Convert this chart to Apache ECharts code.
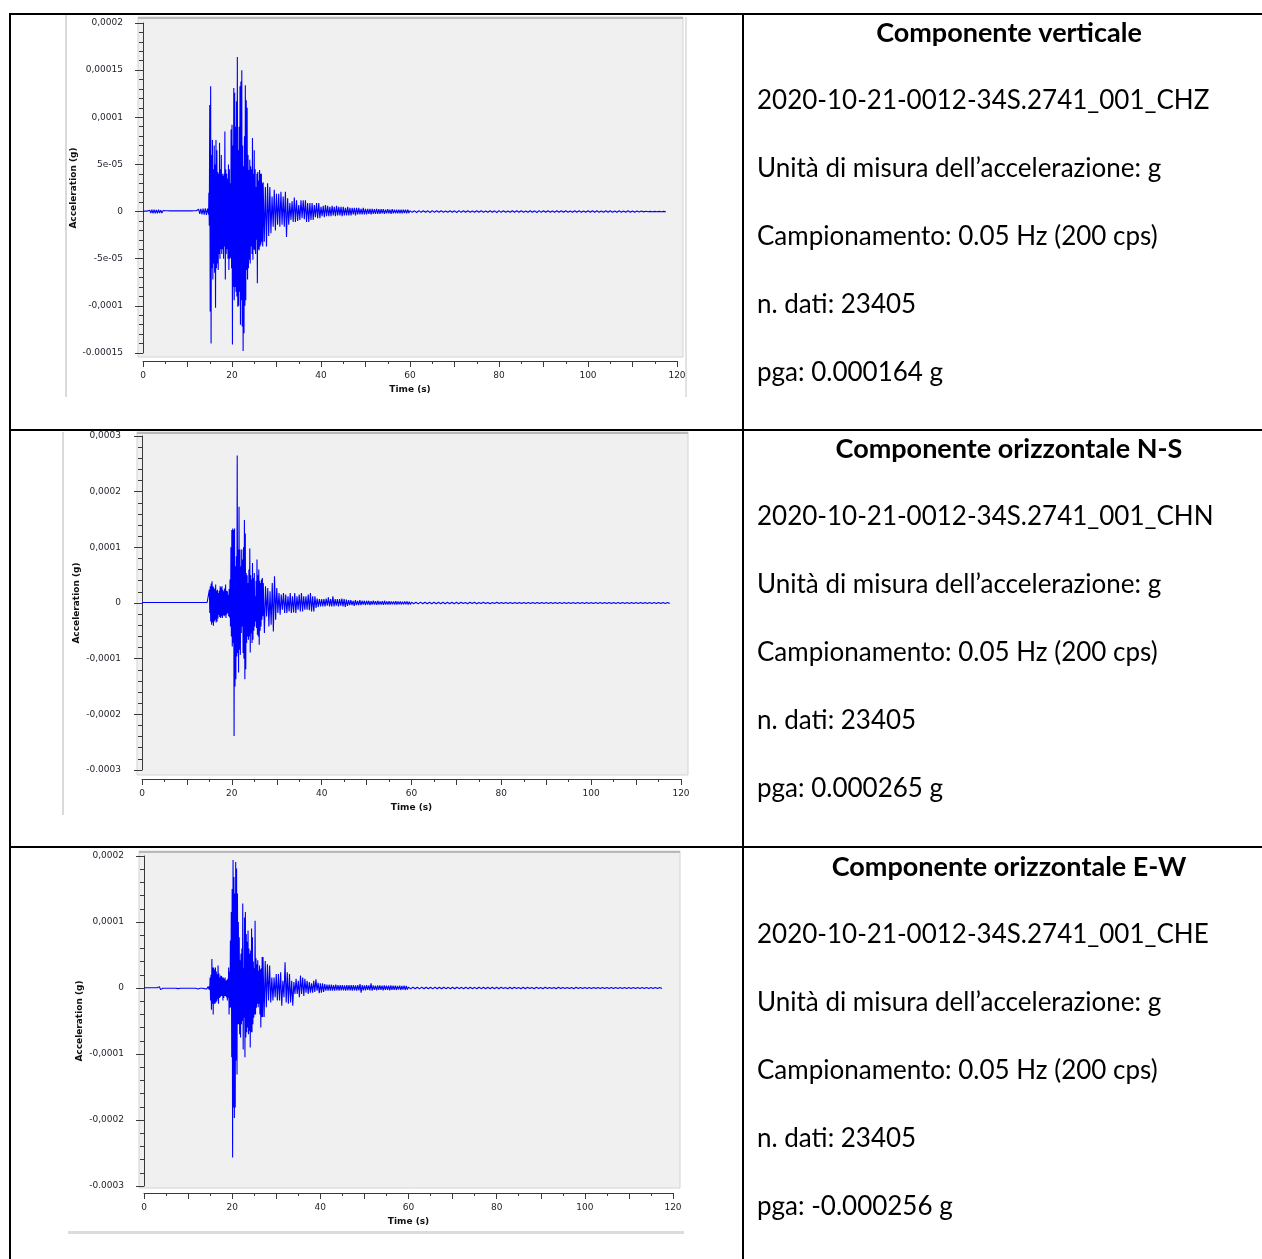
<!DOCTYPE html>
<html>
<head>
<meta charset="utf-8">
<script src="https://cdn.jsdelivr.net/npm/echarts@6/dist/echarts.min.js"></script>
<style>
html,body{margin:0;padding:0;background:#fff;}
#c{width:1262px;height:1259px;}
</style>
</head>
<body>
<div id="c"></div>
<script>
// ---------------- DATA (accelerations in micro-g, 1e-6 g) ----------------
// Each segment: upper peak at t, lower peak at t + dt/2 (t = t0 + i*dt)
const PRE_T0 = 0,    PRE_DT = 0.5;
const MAIN_T0 = 14.8, MAIN_DT = 0.2;
const CODA_T0 = 27,  CODA_DT = 0.5;
const TAIL_T0 = 60,  TAIL_DT = 1;

// Vertical component (CHZ)
const Z_PRE_UP = [0.5,0.5,0.5,1.5,2,2,1.8,2,1.5,1,0.8,0.8,0.7,0.8,0.7,0.8,0.7,0.8,0.7,0.8,0.7,0.8,0.7,0.8,0.8,2.5,3,3.2,3.5,3.2];
const Z_PRE_LO = [-0.5,-0.5,-0.5,-1.5,-2,-2,-1.8,-1.5,-1.5,-1,-0.8,-0.8,-0.7,-0.8,-0.7,-0.8,-0.7,-0.8,-0.7,-0.8,-0.7,-0.8,-0.7,-0.8,-0.8,-2.5,-3,-3.2,-3.5,-3.2];
const Z_MAIN_UP = [20,113,133,60,76,45,70,50,76,65,42,40,73,45,60,40,38,40,85,45,40,35,50,45,30,87,92,70,131,126,90,117,164,65,90,133,138,150,70,48,80,134,118,110,60,44,55,48,45,78,40,65,45,26,40,42,33,44,40,40,30];
const Z_MAIN_LO = [-15,-106,-140,-60,-72,-55,-65,-102,-60,-55,-62,-45,-50,-40,-45,-40,-50,-37,-72,-45,-40,-50,-62,-50,-49,-60,-141,-80,-94,-80,-85,-90,-101,-100,-85,-120,-94,-122,-148,-129,-100,-94,-62,-72,-60,-51,-55,-37,-45,-51,-40,-41,-45,-30,-76,-40,-41,-37,-35,-32,-37];
const Z_CODA_UP = [31,26,30,26,16,23,19,19,21,16,21,14,9,11,15,12,7,12,12,12,9,9,9,7,9,9,5,6,7,6,5,6,5,6,5,5,5,4,5,4,4,4,4,4,3,4,3,3,3,3,2.5,3,2.5,2.5,2.5,2,2.5,2,2.5,2,2,2,2,2,2,2];
const Z_CODA_LO = [-32,-37,-26,-23,-16,-20,-14,-16,-14,-16,-27,-14,-9,-11,-11,-10,-9,-7,-8,-11,-11,-9,-9,-6,-7,-7,-5,-6,-5,-5,-5,-4,-5,-4,-4,-5,-4,-4,-4,-4,-3,-4,-3,-3,-3,-3,-3,-2.5,-3,-2.5,-2.5,-2.5,-2.5,-2,-2.5,-2,-2,-2.5,-2,-2,-2,-2,-2,-1.5,-2,-1.5];
const Z_TAIL_UP = [1,0.8,1,0.8,0.8,1,0.8,0.8,0.7,0.8,0.8,1,0.8,0.8,0.7,0.8,0.8,0.7,0.8,0.8,1,0.8,0.7,0.8,0.8,0.8,0.7,0.8,0.8,1,0.8,0.8,0.7,0.8,0.8,0.8,0.7,0.8,0.8,0.7,0.8,0.8,0.8,0.7,0.8,0.8,0.7,0.8,0.7,0.8,0.7,0.7,0.5,0.3,0.2,0.2,0.2,0.2];
const Z_TAIL_LO = [-0.8,-1,-0.8,-0.8,-1,-0.8,-0.8,-0.7,-0.8,-0.8,-1,-0.8,-0.8,-0.7,-0.8,-0.8,-0.7,-0.8,-0.8,-1,-0.8,-0.7,-0.8,-0.8,-0.8,-0.7,-0.8,-0.8,-1,-0.8,-0.8,-0.7,-0.8,-0.8,-0.8,-0.7,-0.8,-0.8,-0.7,-0.8,-0.8,-0.8,-0.7,-0.8,-0.8,-0.7,-0.8,-0.7,-0.8,-0.7,-0.7,-0.5,-0.3,-0.2,-0.2,-0.2,-0.2,-0.2];

// Horizontal N-S component (CHN)
const N_PRE_UP = [0.9,0.9,0.9,0.9,0.9,0.9,0.9,0.9,0.9,0.9,0.9,0.9,0.9,0.9,0.9,0.9,0.9,0.9,0.9,0.9,0.9,0.9,0.9,0.9,0.9,0.9,0.9,0.9,0.9,0.9];
const N_PRE_LO = [-0.9,-0.9,-0.9,-0.9,-0.9,-0.9,-0.9,-0.9,-0.9,-0.9,-0.9,-0.9,-0.9,-0.9,-0.9,-0.9,-0.9,-0.9,-0.9,-0.9,-0.9,-0.9,-0.9,-0.9,-0.9,-0.9,-0.9,-0.9,-0.9,-0.9];
const N_MAIN_UP = [0.9,24,30,35,39,30,28,25,33,22,24,18,22,30,28,30,24,21,26,33,22,21,15,25,42,100,131,134,131,134,66,84,265,96,173,96,66,96,78,100,149,125,54,50,36,60,98,50,42,72,45,54,12,40,78,50,60,40,36,42,45];
const N_MAIN_LO = [-0.9,-18,-33,-39,-35,-41,-33,-30,-35,-33,-28,-21,-25,-27,-24,-27,-22,-24,-22,-27,-20,-18,-24,-26,-42,-60,-78,-72,-239,-150,-137,-96,-90,-125,-84,-93,-54,-42,-90,-100,-137,-119,-72,-60,-66,-60,-89,-55,-72,-66,-50,-42,-33,-45,-57,-60,-75,-50,-42,-30,-24];
const N_CODA_UP = [36,30,27,21,36,48,27,18,15,18,15,12,18,12,18,12,15,18,12,12,15,18,12,12,8,7,7,7,8,10,7,12,7,7,7,8,7,6,5,5,4,5,4,5,4,4,4,4,3.5,4,3.5,4,3,3.5,4,3,3.5,3,3,3.5,3,3,2.5,3,3,2.5];
const N_CODA_LO = [-54,-24,-42,-39,-51,-30,-18,-21,-12,-18,-18,-15,-18,-17,-18,-12,-15,-15,-12,-12,-13,-15,-15,-9,-7,-6,-6,-6,-5,-6,-6,-6,-5,-6,-5,-6,-7,-5,-4,-4,-5,-4,-4,-4,-3,-4,-3,-4,-3,-3,-3.5,-3,-3,-3.5,-3,-3,-3,-2.5,-3,-3,-2.5,-3,-2.5,-2.5,-3,-2.5];
const N_TAIL_UP = [1.5,1.3,1.5,1.3,1.3,1.2,1.3,1.2,1.2,1.3,1.2,1.2,1,1.2,1.2,1,1.2,1,1,1.2,1,1,1,1,1,1,1,1,1,1,0.9,0.9,0.9,0.9,0.9,0.9,0.9,0.9,0.9,0.9,0.9,0.9,0.9,0.9,0.9,0.9,0.9,0.9,0.9,0.9,0.9,0.9,0.9,0.9,0.9,0.9,0.9,0.9];
const N_TAIL_LO = [-1.3,-1.5,-1.3,-1.2,-1.3,-1.2,-1.2,-1.3,-1.2,-1.2,-1.2,-1,-1.2,-1,-1.2,-1,-1,-1.2,-1,-1,-1,-1,-1,-1,-1,-1,-1,-1,-1,-1,-0.9,-0.9,-0.9,-0.9,-0.9,-0.9,-0.9,-0.9,-0.9,-0.9,-0.9,-0.9,-0.9,-0.9,-0.9,-0.9,-0.9,-0.9,-0.9,-0.9,-0.9,-0.9,-0.9,-0.9,-0.9,-0.9,-0.9,-0.9];

// Horizontal E-W component (CHE)
const E_PRE_UP = [0.4,0.4,0.4,0.4,0.4,0.4,0.4,2,0.4,0.4,0.4,0.4,0.4,0.4,0.4,1.5,0.4,0.4,0.4,0.4,0.4,0.4,0.4,0.4,1.5,0.4,0.4,1,1.5,2];
const E_PRE_LO = [-0.4,-0.4,-0.4,-0.4,-0.4,-0.4,-0.4,-2.5,-0.4,-0.4,-0.4,-0.4,-0.4,-0.4,-0.4,-1,-0.4,-0.4,-0.4,-0.4,-0.4,-0.4,-0.4,-0.4,-1.5,-0.4,-0.4,-1,-1.5,-2];
const E_MAIN_UP = [3,16,20,44,31,31,28,31,25,21,34,22,16,19,18,16,16,14,16,11,12,14,31,25,72,115,150,194,168,143,191,181,143,100,77,42,52,60,128,30,107,115,82,70,87,60,52,57,90,77,40,30,102,45,36,42,26,34,28,30,47];
const E_MAIN_LO = [-3,-19,-33,-24,-40,-24,-24,-22,-20,-17,-24,-15,-14,-12,-12,-19,-15,-12,-12,-14,-19,-15,-40,-30,-29,-105,-257,-181,-197,-181,-110,-131,-55,-55,-70,-75,-55,-50,-93,-45,-105,-75,-67,-60,-70,-65,-90,-67,-67,-55,-45,-40,-40,-30,-24,-29,-24,-40,-60,-44,-44];
const E_CODA_UP = [47,41,36,34,16,16,21,21,24,11,39,24,21,11,9,14,11,19,16,14,11,9,7,11,13,8,7,7,6,5,5,5,4.5,5,4.5,4.5,4.5,4,4.5,4.5,4.5,4.5,4,4.5,6,4.5,4,4.5,4,7,4,3.5,4,4,3.5,4,3.5,3.5,4,3.5,3.5,3,3.5,3,3.5,3];
const E_CODA_LO = [-44,-29,-19,-22,-19,-14,-19,-19,-27,-14,-22,-24,-22,-27,-9,-9,-14,-9,-12,-7,-9,-7,-7,-6,-4,-8,-7,-6,-4,-4,-4,-4,-4,-3.5,-4,-3.5,-3.5,-4,-3.5,-3.5,-4,-3.5,-4,-3.5,-7,-3.5,-3.5,-3,-3.5,-4,-3,-3.5,-3,-3,-3.5,-3,-3,-3.5,-3,-3,-3,-2.5,-3,-2.5,-3,-2.5];
const E_TAIL_UP = [1.4,1.4,1.2,1.4,1.2,1.2,1.4,1.2,1.2,1,1.2,1.2,1,1.2,1,1,1.2,1,1,1,1,1,0.8,1,1,0.8,1,1,0.8,1,0.8,1,0.8,0.8,1,0.8,0.8,0.8,1,0.8,0.8,0.8,0.8,0.8,0.8,0.8,0.8,0.8,0.7,0.7,0.7,0.7,0.7,0.7,0.7,0.7,0.7,0.7];
const E_TAIL_LO = [-1.4,-1.2,-1.4,-1.2,-1.2,-1.4,-1.2,-1.2,-1,-1.2,-1.2,-1,-1.2,-1,-1,-1.2,-1,-1,-1,-1,-1,-0.8,-1,-1,-0.8,-1,-1,-0.8,-1,-0.8,-1,-0.8,-0.8,-1,-0.8,-0.8,-0.8,-1,-0.8,-0.8,-0.8,-0.8,-0.8,-0.8,-0.8,-0.8,-0.8,-0.7,-0.7,-0.7,-0.7,-0.7,-0.7,-0.7,-0.7,-0.7,-0.7,-0.7];

// Tick labels
const X_TICK_LABELS = ['0','20','40','60','80','100','120'];
const Z_Y_LABELS = ['-0.00015','-0,0001','-5e-05','0','5e-05','0,0001','0,00015','0,0002'];
const N_Y_LABELS = ['-0.0003','-0,0002','-0,0001','0','0,0001','0,0002','0,0003'];
const E_Y_LABELS = ['-0.0003','-0,0002','-0,0001','0','0,0001','0,0002'];

// Right column text
const TITLES = ['Componente verticale','Componente orizzontale N-S','Componente orizzontale E-W'];
const FILES = ['2020-10-21-0012-34S.2741_001_CHZ','2020-10-21-0012-34S.2741_001_CHN','2020-10-21-0012-34S.2741_001_CHE'];
const UNIT_TEXT = 'Unità di misura dell’accelerazione: g';
const RATE_TEXT = 'Campionamento: 0.05 Hz (200 cps)';
const NDATA = ['n. dati: 23405','n. dati: 23405','n. dati: 23405'];
const PGA = ['pga: 0.000164 g','pga: 0.000265 g','pga: -0.000256 g'];

// ---------------- BUILD ----------------
function build(segs){
  const pts = [];
  segs.forEach(s => {
    const n = Math.min(s.up.length, s.lo.length);
    for (let i = 0; i < n; i++) {
      const t = s.t0 + i * s.dt;
      pts.push([+t.toFixed(3), s.up[i]]);
      pts.push([+(t + s.dt/2).toFixed(3), s.lo[i]]);
    }
  });
  return pts;
}
function segs(pu,pl,mu,ml,cu,cl,tu,tl){
  return [
    {t0:PRE_T0,dt:PRE_DT,up:pu,lo:pl},
    {t0:MAIN_T0,dt:MAIN_DT,up:mu,lo:ml},
    {t0:CODA_T0,dt:CODA_DT,up:cu,lo:cl},
    {t0:TAIL_T0,dt:TAIL_DT,up:tu,lo:tl}
  ];
}
const TRACES = [
  build(segs(Z_PRE_UP,Z_PRE_LO,Z_MAIN_UP,Z_MAIN_LO,Z_CODA_UP,Z_CODA_LO,Z_TAIL_UP,Z_TAIL_LO)),
  build(segs(N_PRE_UP,N_PRE_LO,N_MAIN_UP,N_MAIN_LO,N_CODA_UP,N_CODA_LO,N_TAIL_UP,N_TAIL_LO)),
  build(segs(E_PRE_UP,E_PRE_LO,E_MAIN_UP,E_MAIN_LO,E_CODA_UP,E_CODA_LO,E_TAIL_UP,E_TAIL_LO))
];

// layout of the three plots
const PLOTS = [
  {grid:{left:143,top:23,width:534,height:330}, min:-150,max:200,step:50, labels:Z_Y_LABELS, yOff:8, xOff:8, bg:[138,17,683,357]},
  {grid:{left:142,top:436,width:539,height:334}, min:-300,max:300,step:100, labels:N_Y_LABELS, yOff:9, xOff:9, bg:[137,432,688,775]},
  {grid:{left:144,top:856,width:529,height:330}, min:-300,max:200,step:100, labels:E_Y_LABELS, yOff:8, xOff:7, bg:[139,851,680,1188]}
];

const AX = '#3a3a3a';
const LBL = {fontFamily:'DejaVu Sans', fontSize:9, color:'#1e1e2a'};
const NAME = {fontFamily:'DejaVu Sans', fontSize:9, fontWeight:'bold', color:'#111'};

const grids = [], xAxes = [], yAxes = [], series = [], graphics = [];
PLOTS.forEach((p, k) => {
  grids.push(Object.assign({containLabel:false}, p.grid));
  xAxes.push({
    type:'value', gridIndex:k, min:0, max:120, interval:10, offset:p.xOff, position:'bottom',
    axisLine:{show:true, onZero:false, lineStyle:{color:AX, width:1}},
    axisTick:{show:true, length:6, lineStyle:{color:AX}},
    minorTick:{show:true, splitNumber:2, length:3, lineStyle:{color:AX}},
    splitLine:{show:false},
    axisLabel:Object.assign({margin:10, formatter:v => (v % 20 === 0 ? X_TICK_LABELS[v/20] : '')}, LBL),
    name:'Time (s)', nameLocation:'middle', nameGap:24, nameTextStyle:NAME
  });
  yAxes.push({
    type:'value', gridIndex:k, min:p.min, max:p.max, interval:p.step, offset:p.yOff,
    axisLine:{show:true, lineStyle:{color:AX, width:1}},
    axisTick:{show:true, length:8, lineStyle:{color:AX}},
    minorTick:{show:true, splitNumber:5, length:4, lineStyle:{color:AX}},
    splitLine:{show:false},
    axisLabel:Object.assign({margin:12, formatter:v => p.labels[Math.round((v - p.min)/p.step)]}, LBL),
    name:'Acceleration (g)', nameLocation:'middle', nameGap:52, nameTextStyle:NAME
  });
  series.push({
    type:'line', xAxisIndex:k, yAxisIndex:k, data:TRACES[k], showSymbol:false, symbol:'none',
    lineStyle:{color:'#0000ff', width:1.1}, itemStyle:{color:'#0000ff'}, animation:false, clip:true, z:5
  });
  const b = p.bg;
  graphics.push({type:'rect', z:-10, shape:{x:b[0], y:b[1], width:b[2]-b[0], height:b[3]-b[1]},
    style:{fill:'#f0f0f0', stroke:'#d4d4d4', lineWidth:1}});
  graphics.push({type:'rect', z:-9, shape:{x:b[0], y:b[1], width:b[2]-b[0], height:2}, style:{fill:'#b9b9b9'}});
});

// light frame lines of the embedded screenshots
graphics.push({type:'rect', z:-10, shape:{x:65,y:15,width:2,height:382}, style:{fill:'#dadada'}});
graphics.push({type:'rect', z:-10, shape:{x:685,y:17,width:2,height:380}, style:{fill:'#e2e2e2'}});
graphics.push({type:'rect', z:-10, shape:{x:62,y:432,width:2,height:383}, style:{fill:'#dadada'}});
graphics.push({type:'rect', z:-10, shape:{x:68,y:1231,width:616,height:3}, style:{fill:'#dcdcdc'}});

// table borders
const LINE = {stroke:'#000', lineWidth:2};
[[9,14,1262,14],[10,13,10,1259],[743,13,743,1259],[9,430,1262,430],[9,847,1262,847]].forEach(l => {
  graphics.push({type:'line', z:100, shape:{x1:l[0],y1:l[1],x2:l[2],y2:l[3]}, style:LINE});
});

// right column text
const ROW_Y = [33, 449, 867];
const GAP = 68;
const BODY_FONT = '26px Lato';
const TITLE_FONT = 'bold 27px Lato';
ROW_Y.forEach((y0, r) => {
  graphics.push({type:'text', z:100, x:1009, y:y0, style:{text:TITLES[r], font:TITLE_FONT, fill:'#000', textAlign:'center', textVerticalAlign:'middle'}});
  const lines = [FILES[r], UNIT_TEXT, RATE_TEXT, NDATA[r], PGA[r]];
  lines.forEach((s, i) => {
    graphics.push({type:'text', z:100, x:757, y:y0 + GAP*(i+1), style:{text:s, font:BODY_FONT, fill:'#000', textAlign:'left', textVerticalAlign:'middle'}});
  });
});

const chart = echarts.init(document.getElementById('c'), null, {renderer:'canvas'});
chart.setOption({
  backgroundColor:'#fff',
  animation:false,
  grid:grids, xAxis:xAxes, yAxis:yAxes, series:series,
  graphic:{elements:graphics}
});
</script>
</body>
</html>
